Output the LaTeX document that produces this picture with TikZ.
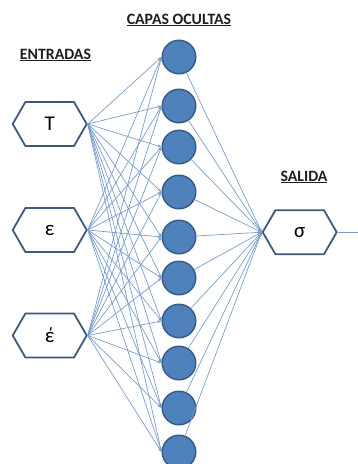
\documentclass[tikz,border=0pt]{standalone}
\usepackage{fontspec}
\setmainfont{Carlito}[BoldFont={Carlito Bold}]
\usetikzlibrary{shapes.symbols,arrows.meta}

\definecolor{nodeblue}{RGB}{79,129,189}
\definecolor{nodeedge}{RGB}{56,93,138}
\definecolor{hexedge}{RGB}{62,90,125}
\definecolor{wirecol}{RGB}{122,157,205}
\definecolor{headink}{RGB}{30,30,30}

\tikzset{
  hexbox/.style={shape=signal, signal to=east and west, signal pointer angle=120,
    draw=hexedge, line width=1.8pt, fill=white,
    minimum width=74pt, minimum height=44pt, inner sep=0pt,
    font=\fontsize{21}{21}\selectfont},
  neuron/.style={circle, draw=nodeedge, fill=nodeblue, line width=1.5pt,
    minimum size=33.5pt, inner sep=0pt},
  wire/.style={draw=wirecol, line width=0.7pt, -{Stealth[length=4pt,width=3pt]}},
  heading/.style={font=\fontsize{15.8}{15.8}\selectfont\bfseries, text=headink,
    anchor=base, inner sep=0pt}
}

\begin{document}
\begin{tikzpicture}[x=1pt,y=-1pt]
  \useasboundingbox (0,0) rectangle (358,464);

  % headings
  \node[heading] (hcapas) at (179,24) {\underline{CAPAS OCULTAS}};
  \node[heading] (hentr) at (55.5,59) {\underline{ENTRADAS}};
  \node[heading] (hsal) at (304,181) {\underline{SALIDA}};

  % input layer
  \node[hexbox] (inT) at (49.7,124) {T};
  \node[hexbox] (inE) at (49.7,230) {ε};
  \node[hexbox] (inP) at (49.7,335.5) {έ};

  % hidden layer
  \foreach \k/\y in {1/57,2/106,3/147,4/192,5/237,6/278,7/321,8/363,9/408,10/452}
    \node[neuron] (h\k) at (179,\y) {};

  % output layer
  \node[hexbox] (out) at (299.7,232.2) {σ};
  \coordinate (exit) at (358,232.2);

  % connections
  \foreach \i in {inT,inE,inP}
    \foreach \k in {1,...,10}
      \draw[wire] (\i.east) -- (h\k.west);
  \foreach \k in {1,...,10}
    \draw[wire] (h\k) -- (out.west);
  \draw[wire,-] (out.east) -- (exit);
\end{tikzpicture}
\end{document}
